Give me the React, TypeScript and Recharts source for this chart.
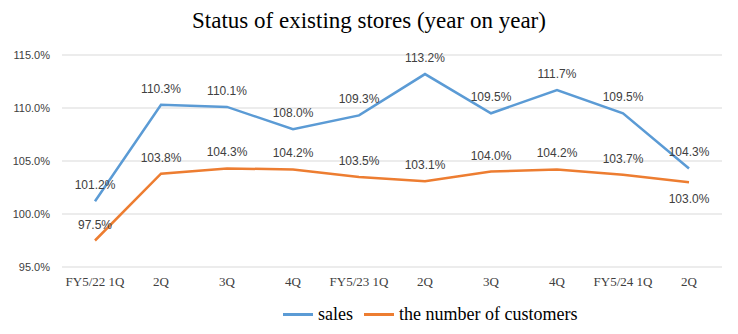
import React from 'react';
import { LineChart, Line, XAxis, YAxis, CartesianGrid, Legend, LabelList } from 'recharts';

const quarters = ['FY5/22 1Q', '2Q', '3Q', '4Q', 'FY5/23 1Q', '2Q', '3Q', '4Q', 'FY5/24 1Q', '2Q'];
const sales = [101.2, 110.3, 110.1, 108.0, 109.3, 113.2, 109.5, 111.7, 109.5, 104.3];
const customers = [97.5, 103.8, 104.3, 104.2, 103.5, 103.1, 104.0, 104.2, 103.7, 103.0];
const yTicks = [95, 100, 105, 110, 115];

const data = quarters.map((q, i) => ({ q: q + '#' + i, sales: sales[i], customers: customers[i] }));

const serif = '"Liberation Serif", "Times New Roman", serif';
const sans = '"Liberation Sans", Arial, sans-serif';

function makeLabel(below: (i: number) => boolean) {
  return (props: any) => {
    const { x, y, value, index } = props;
    const dy = below(index) ? 21 : -12;
    return (
      <text x={x} y={y + dy} textAnchor="middle" fontFamily={sans} fontSize={12} fill="#404040">
        {value.toFixed(1)}%
      </text>
    );
  };
}

function LegendBox(props: any) {
  const items = props.payload || [];
  return (
    <div style={{ display: 'flex', alignItems: 'center', fontFamily: serif, fontSize: 18, color: '#000' }}>
      {items.map((it: any) => (
        <div key={it.value} style={{ display: 'flex', alignItems: 'center', marginRight: 11 }}>
          <span style={{ display: 'inline-block', width: 30, height: 3, background: it.color, marginRight: 5 }} />
          <span>{it.value}</span>
        </div>
      ))}
    </div>
  );
}

export default function App() {
  return (
    <div style={{ position: 'absolute', left: 0, top: 0, width: 738, height: 334, background: '#fff' }}>
      <div
        style={{
          position: 'absolute',
          left: 0,
          top: 8,
          width: 738,
          textAlign: 'center',
          fontFamily: serif,
          fontSize: 23,
          color: '#000',
        }}
      >
        Status of existing stores (year on year)
      </div>
      <LineChart width={738} height={334} data={data} margin={{ top: 55, right: 16, left: 0, bottom: 16 }}>
        <CartesianGrid vertical={false} stroke="#d9d9d9" />
        <XAxis
          dataKey="q"
          scale="band"
          axisLine={false}
          tickLine={false}
          interval={0}
          tickFormatter={(v: string) => v.split('#')[0]}
          tick={{ fontFamily: serif, fontSize: 13, fill: '#404040' }}
          tickMargin={4}
          height={30}
        />
        <YAxis
          domain={[95, 115]}
          ticks={yTicks}
          axisLine={false}
          tickLine={false}
          width={62}
          tickFormatter={(v: number) => v.toFixed(1) + '%'}
          tick={{ fontFamily: sans, fontSize: 11, fill: '#404040' }}
          tickMargin={6}
        />
        <Legend
          content={LegendBox}
          wrapperStyle={{ left: 283, top: 304, width: 'auto' }}
        />
        <Line
          dataKey="sales"
          name="sales"
          stroke="#5B9BD5"
          strokeWidth={2.5}
          dot={false}
          isAnimationActive={false}
        >
          <LabelList dataKey="sales" content={makeLabel(() => false)} />
        </Line>
        <Line
          dataKey="customers"
          name="the number of customers"
          stroke="#ED7D31"
          strokeWidth={2.5}
          dot={false}
          isAnimationActive={false}
        >
          <LabelList dataKey="customers" content={makeLabel((i) => i === customers.length - 1)} />
        </Line>
      </LineChart>
    </div>
  );
}
